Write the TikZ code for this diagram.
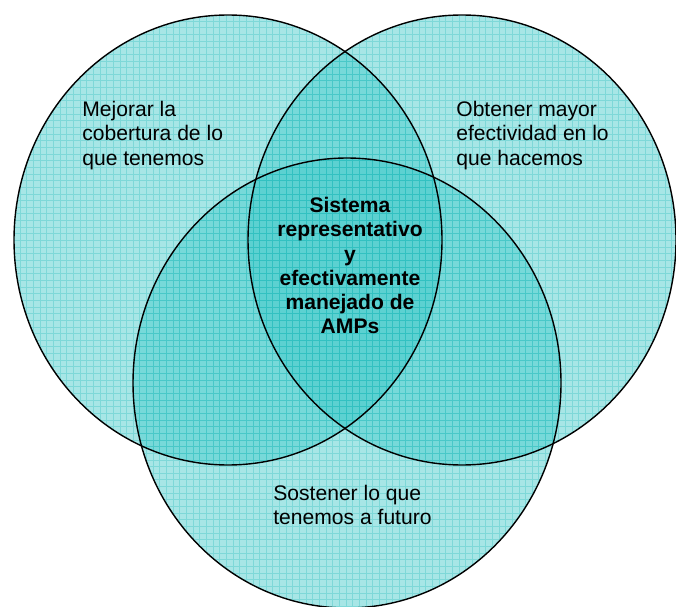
\documentclass[tikz,border=0pt]{standalone}
\usepackage{fontspec}
\setmainfont{Liberation Sans}
\definecolor{venncyan}{RGB}{60,200,200}
\definecolor{venngrid}{RGB}{30,185,185}

\begin{document}
\begin{tikzpicture}[
	 ring/.style = {fill = venncyan, fill opacity = 0.45},
	 ringline/.style = {thick, black},
	 venntext/.style = {inner sep = 0, align = left, font = \fontsize{12}{13.8}\selectfont},
	 ]
	 \useasboundingbox (0, 0) rectangle (13.52, 12.12);
	 
	 \fill[ring] (4.56, 7.32) ellipse (4.28 and 4.5);
	 \fill[ring] (9.24, 7.32) ellipse (4.28 and 4.5);
	 \fill[ring] (6.94, 4.46) ellipse (4.28 and 4.5);
	 
	 \foreach \cx/\cy in {4.56/7.32, 9.24/7.32, 6.94/4.46}
	 {
	 \begin{scope}
	 \clip (\cx, \cy) ellipse (4.28 and 4.5);
	 \draw[step = 0.133, venngrid, very thin, opacity = 0.3] (0, 0) grid (13.52, 12.12);
	 \end{scope}
	 }
	 
	 \draw[ringline] (4.56, 7.32) ellipse (4.28 and 4.5);
	 \draw[ringline] (9.24, 7.32) ellipse (4.28 and 4.5);
	 \draw[ringline] (6.94, 4.46) ellipse (4.28 and 4.5);
	 
	 \node[venntext, anchor = north west] (cover) at (1.64, 10.1) {Mejorar la\\cobertura de lo\\que tenemos};
	 \node[venntext, anchor = north west] (effect) at (9.12, 10.1) {Obtener mayor\\efectividad en lo\\que hacemos};
	 \node[venntext, anchor = north west] (future) at (5.46, 2.42) {Sostener lo que\\tenemos a futuro};
	 \node[venntext, align = center, anchor = north, font = \fontsize{12}{13.8}\selectfont\bfseries] (core) at (7.0, 8.18) {Sistema\\representativo\\y\\efectivamente\\manejado de\\AMPs};
\end{tikzpicture}
\end{document}
